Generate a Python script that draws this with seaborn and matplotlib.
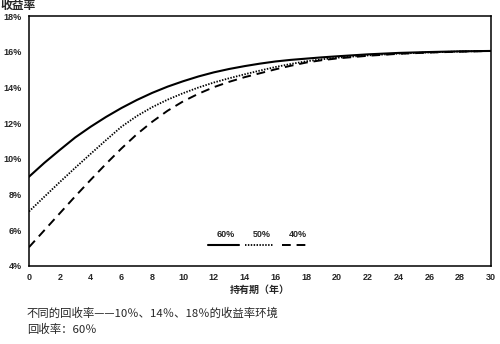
import numpy as np
import pandas as pd
import matplotlib
matplotlib.use("Agg")
import matplotlib.pyplot as plt
import seaborn as sns
from matplotlib.ticker import MultipleLocator, FuncFormatter

sns.set_theme(style="white")
plt.rcParams['font.family'] = ['Liberation Sans', 'Noto Sans CJK SC', 'DejaVu Sans']

years = [0, 1, 2, 3, 4, 5, 6, 7, 8, 9, 10, 11, 12, 13, 14, 15, 16, 17, 18, 19, 20, 22, 24, 26, 28, 30]
rate_60 = [9.0, 9.78, 10.5, 11.2, 11.8, 12.35, 12.85, 13.3, 13.7, 14.05, 14.35, 14.62, 14.85, 15.04,
           15.2, 15.34, 15.46, 15.55, 15.62, 15.69, 15.75, 15.86, 15.94, 15.99, 16.03, 16.05]
rate_50 = [7.05, 7.88, 8.7, 9.5, 10.28, 11.05, 11.8, 12.4, 12.9, 13.32, 13.68, 14.0, 14.28, 14.52,
           14.74, 14.95, 15.15, 15.32, 15.47, 15.58, 15.67, 15.8, 15.9, 15.97, 16.02, 16.05]
rate_40 = [5.05, 6.0, 6.95, 7.9, 8.82, 9.72, 10.58, 11.38, 12.08, 12.7, 13.22, 13.65, 14.02, 14.32,
           14.58, 14.8, 15.02, 15.22, 15.4, 15.53, 15.63, 15.78, 15.89, 15.96, 16.01, 16.05]
series = ["60%", "50%", "40%"]
x_ticks = list(range(0, 31, 2))
y_ticks = [4, 6, 8, 10, 12, 14, 16, 18]

df = pd.DataFrame({
    "year": years * 3,
    "rate": rate_60 + rate_50 + rate_40,
    "series": [series[0]] * len(years) + [series[1]] * len(years) + [series[2]] * len(years),
})

fig = plt.figure(figsize=(5.0, 3.44), dpi=100)
ax = fig.add_axes([0.058, 0.227, 0.924, 0.726])

dashes = {"60%": "", "50%": (0.8, 0.8), "40%": (4.5, 3.0)}
widths = {"60%": 1.5, "50%": 1.3, "40%": 1.4}
for s in series:
    sub = df[df["series"] == s]
    sns.lineplot(data=sub, x="year", y="rate", ax=ax, color="black",
                 linewidth=widths[s], dashes=False, legend=False)
    line = ax.lines[-1]
    if dashes[s]:
        line.set_dashes(dashes[s])

ax.set_xlim(0, 30)
ax.set_ylim(4, 18)
ax.set_xticks(x_ticks)
ax.set_yticks(y_ticks)
ax.yaxis.set_minor_locator(MultipleLocator(1))
ax.yaxis.set_major_formatter(FuncFormatter(lambda v, p: f"{int(v)}%"))
ax.tick_params(axis="both", which="both", direction="in", length=3.5, width=1.0,
               color="black", labelsize=6.5)
ax.tick_params(axis="y", which="major", pad=5)
ax.tick_params(axis="x", which="major", pad=5)
for lab in ax.get_xticklabels() + ax.get_yticklabels():
    lab.set_fontweight("bold")
for sp in ax.spines.values():
    sp.set_visible(True)
    sp.set_color("black")
    sp.set_linewidth(1.1)
ax.set_xlabel("")
ax.set_ylabel("")

# custom legend: labels above line samples
leg_x = [(0.387, 0.454), (0.468, 0.528), (0.548, 0.604)]
for s, (x0, x1) in zip(series, leg_x):
    h = ax.plot([x0, x1], [0.084, 0.084], transform=ax.transAxes, color="black",
                linewidth=widths[s])[0]
    if dashes[s]:
        h.set_dashes(dashes[s])
    ax.text((x0 + x1) / 2 + 0.005, 0.125, s, transform=ax.transAxes, ha="center",
            va="center", fontsize=6.5, fontweight="bold")

cjk = ['Noto Sans CJK SC', 'DejaVu Sans']
fig.text(0.0, 0.983, "收益率", fontsize=8.5, family=cjk, fontweight="bold", ha="left", va="center")
fig.text(0.52, 0.157, "持有期（年）", fontsize=7.2, family=cjk, fontweight="bold", ha="center", va="center")
fig.text(0.054, 0.09, "不同的回收率——10％、14％、18％的收益率环境", fontsize=8.2, family=cjk, ha="left", va="center")
fig.text(0.054, 0.041, "回收率：60％", fontsize=8.2, family=cjk, ha="left", va="center")

fig.savefig("out.png", dpi=100)
